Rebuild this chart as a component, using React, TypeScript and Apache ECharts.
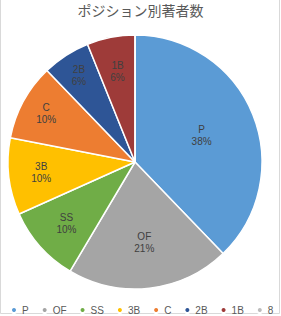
import React, { useEffect, useRef } from "react";
import * as echarts from "echarts";

const categories = ["P", "OF", "SS", "3B", "C", "2B", "1B", "8"];
const values = [31, 17, 8, 8, 8, 5, 5, 0];
const colors = ["#5B9BD5", "#A5A5A5", "#70AD47", "#FFC000", "#ED7D31", "#2E5596", "#9E3B39", "#BDBDBD"];
const labelPush = [1.08, 1.22, 1.38, 1.42, 1.52, 1.55, 1.38, 1];
const titleText = "ポジション別著者数";

export default function App() {
  const ref = useRef<HTMLDivElement>(null);
  useEffect(() => {
    if (!ref.current) return;
    const chart = echarts.init(ref.current, null, { renderer: "svg" });
    const total = values.reduce((a, b) => a + b, 0);
    const cx = 135;
    const cy = 162;
    chart.setOption({
      animation: false,
      backgroundColor: "#ffffff",
      title: {
        text: titleText,
        left: "center",
        top: 3,
        padding: 0,
        textStyle: {
          fontFamily: "'Noto Sans CJK JP', sans-serif",
          fontSize: 14,
          fontWeight: "normal",
          color: "#595959",
        },
      },
      legend: {
        bottom: 1,
        left: 10,
        width: 271,
        padding: 0,
        icon: "circle",
        itemWidth: 6,
        itemHeight: 6,
        itemGap: 12,
        textStyle: {
          fontFamily: "'Liberation Sans', Arial, sans-serif",
          fontSize: 10,
          color: "#595959",
          padding: [0, 0, 0, 0],
        },
        data: categories,
      },
      graphic: [
        {
          type: "rect",
          silent: true,
          shape: { x: 0.5, y: -2, width: 279, height: 315.5 },
          style: { fill: "none", stroke: "#d9d9d9", lineWidth: 1 },
        },
      ],
      series: [
        {
          type: "pie",
          center: [cx, cy],
          radius: 127,
          startAngle: 90,
          clockwise: true,
          avoidLabelOverlap: false,
          itemStyle: { borderColor: "#ffffff", borderWidth: 1.5 },
          label: {
            show: true,
            position: "inside",
            fontFamily: "'Liberation Sans', Arial, sans-serif",
            fontSize: 10,
            lineHeight: 12,
            color: "#404040",
            formatter: (p: any) => `${p.name}\n${Math.round((p.value / total) * 100)}%`,
          },
          labelLayout: (p: any) => {
            const r = p.labelRect;
            const lx = r.x + r.width / 2;
            const ly = r.y + r.height / 2;
            const f = labelPush[p.dataIndex] ?? 1;
            return { x: cx + (lx - cx) * f, y: cy + (ly - cy) * f };
          },
          data: categories.map((c, i) => ({
            name: c,
            value: values[i],
            itemStyle: { color: colors[i] },
            label: values[i] === 0 ? { show: false } : undefined,
          })),
        },
      ],
    });
    return () => chart.dispose();
  }, []);
  return (
    <div
      ref={ref}
      style={{ position: "fixed", left: 0, top: 0, width: 281, height: 316 }}
    />
  );
}
